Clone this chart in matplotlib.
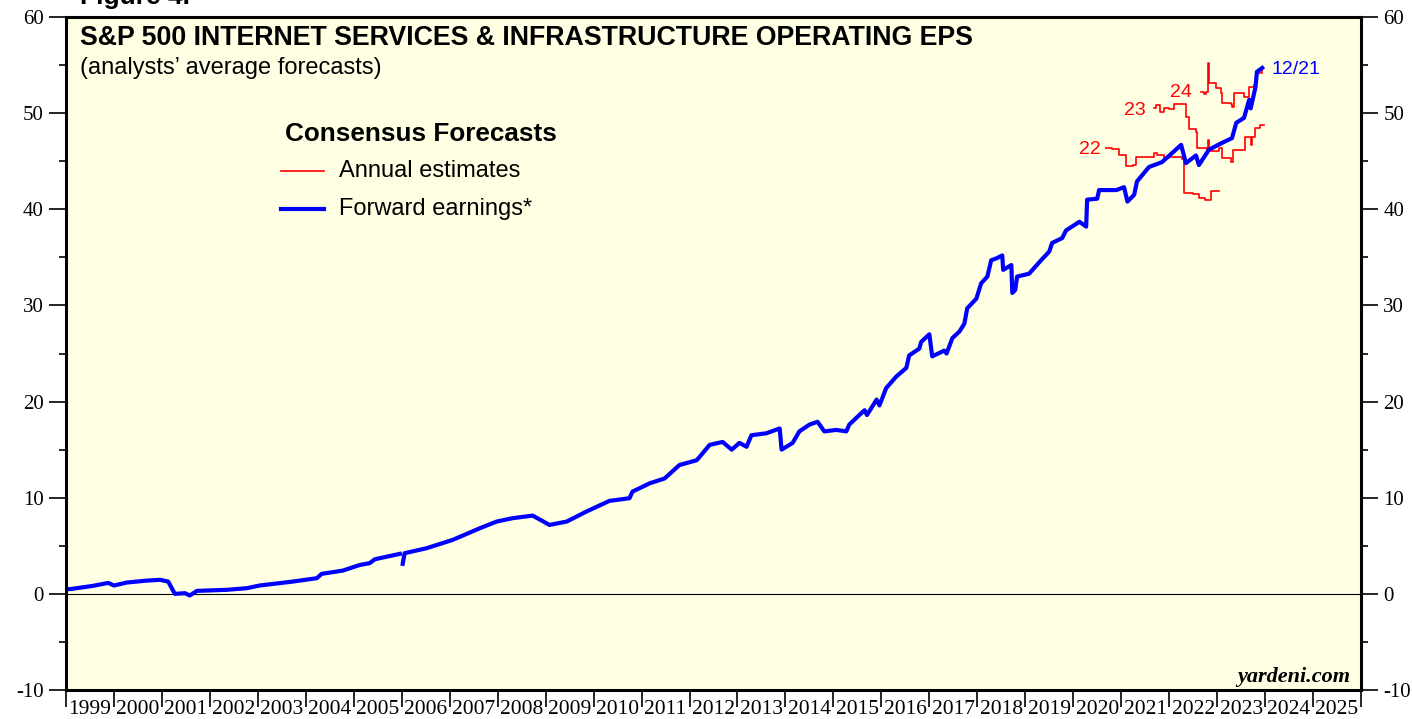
import numpy as np
import matplotlib
matplotlib.use("Agg")
import matplotlib.pyplot as plt
from matplotlib.ticker import MultipleLocator, FixedLocator, NullFormatter

plt.rcParams["axes.unicode_minus"] = False

# forward earnings (blue), decimal year / EPS; nan marks the 2006 break
fwd_year = [1999.0, 1999.08, 1999.56, 1999.88, 2000.0, 2000.27, 2000.69, 2000.96, 2001.13, 2001.27,
            2001.48, 2001.58, 2001.73, 2002.35, 2002.77, 2003.04, 2003.73, 2004.23, 2004.33, 2004.77,
            2005.13, 2005.33, 2005.44, 2005.96, 2005.99, 2006.02, 2006.06, 2006.52, 2007.06, 2007.63,
            2007.98, 2008.31, 2008.73, 2009.08, 2009.44, 2009.85, 2010.33, 2010.75, 2010.81, 2011.17,
            2011.48, 2011.79, 2012.15, 2012.27, 2012.42, 2012.69, 2012.88, 2013.04, 2013.19, 2013.29,
            2013.6, 2013.88, 2013.92, 2014.15, 2014.29, 2014.5, 2014.67, 2014.81, 2015.06, 2015.27,
            2015.33, 2015.54, 2015.65, 2015.7, 2015.9, 2015.96, 2016.1, 2016.31, 2016.52, 2016.58,
            2016.79, 2016.83, 2017.0, 2017.06, 2017.31, 2017.36, 2017.48, 2017.63, 2017.73, 2017.79,
            2017.98, 2018.08, 2018.21, 2018.29, 2018.4, 2018.52, 2018.54, 2018.71, 2018.73, 2018.79,
            2018.83, 2019.08, 2019.33, 2019.5, 2019.56, 2019.77, 2019.85, 2020.13, 2020.27, 2020.29,
            2020.5, 2020.54, 2020.9, 2021.06, 2021.13, 2021.27, 2021.33, 2021.58, 2021.85, 2022.25,
            2022.35, 2022.56, 2022.62, 2022.83, 2023.1, 2023.31, 2023.4, 2023.56, 2023.67, 2023.7,
            2023.8, 2023.83, 2023.94]
fwd_eps = [0.5, 0.49, 0.83, 1.14, 0.87, 1.18, 1.38, 1.46, 1.28, 0.0,
           0.07, -0.17, 0.31, 0.42, 0.59, 0.87, 1.28, 1.63, 2.08, 2.42,
           3.01, 3.19, 3.6, 4.16, np.nan, 3.12, 4.23, 4.75, 5.61, 6.83,
           7.52, 7.87, 8.14, 7.17, 7.52, 8.56, 9.67, 9.95, 10.63, 11.5,
           12.0, 13.4, 13.9, 14.6, 15.5, 15.8, 15.0, 15.7, 15.3, 16.5,
           16.7, 17.2, 15.0, 15.7, 16.9, 17.6, 17.9, 16.9, 17.05, 16.9,
           17.6, 18.6, 19.1, 18.6, 20.2, 19.6, 21.4, 22.6, 23.5, 24.8,
           25.5, 26.2, 27.0, 24.7, 25.3, 25.0, 26.6, 27.3, 28.1, 29.7,
           30.7, 32.3, 33.0, 34.7, 34.9, 35.2, 33.7, 34.2, 31.3, 31.6,
           33.0, 33.3, 34.7, 35.6, 36.5, 37.0, 37.8, 38.7, 38.2, 41.0,
           41.1, 42.0, 42.0, 42.3, 40.8, 41.5, 42.9, 44.4, 44.9, 46.7,
           44.8, 45.6, 44.6, 46.2, 46.9, 47.4, 49.0, 49.5, 51.4, 50.5,
           52.7, 54.3, 54.7]

# annual consensus estimates (red)
est22_year = [2020.69, 2020.8, 2020.96, 2021.1, 2021.25, 2021.31, 2021.5, 2021.69, 2021.75, 2021.9,
              2022.0, 2022.27, 2022.31, 2022.5, 2022.62, 2022.75, 2022.87, 2023.04]
est22_eps = [46.4, 46.3, 45.6, 44.5, 44.6, 45.4, 45.4, 45.9, 45.6, 45.3,
             45.4, 45.2, 41.7, 41.6, 41.2, 41.0, 41.9, 41.9]
est23_year = [2021.69, 2021.72, 2021.8, 2021.9, 2022.0, 2022.1, 2022.27, 2022.35, 2022.42, 2022.56,
              2022.58, 2022.79, 2022.8, 2022.83, 2023.04, 2023.1, 2023.29, 2023.33, 2023.5, 2023.58,
              2023.67, 2023.7, 2023.73, 2023.8, 2023.9, 2023.97]
est23_eps = [50.5, 50.8, 50.1, 50.5, 50.4, 51.0, 51.0, 49.6, 48.4, 48.0,
             46.4, 46.2, 47.2, 46.1, 46.4, 45.3, 44.9, 46.2, 46.2, 47.5,
             47.5, 46.7, 47.5, 48.5, 48.8, 48.8]
est24_year = [2022.67, 2022.73, 2022.77, 2022.8, 2022.83, 2022.98, 2023.08, 2023.1, 2023.29, 2023.31,
              2023.35, 2023.52, 2023.56, 2023.67, 2023.77, 2023.81, 2023.94]
est24_eps = [52.2, 52.0, 52.2, 55.2, 53.1, 52.6, 52.1, 51.1, 51.0, 50.6,
             52.1, 52.1, 51.7, 52.7, 52.9, 54.2, 54.7]

years = list(range(1999, 2026))

fig = plt.figure(figsize=(14.12, 7.19), dpi=100)
ax = fig.add_axes([66 / 1412, 29 / 719, 1295 / 1412, 673 / 719])
ax.set_facecolor("#FFFFE3")

ax.axhline(0, color="black", linewidth=0.8)

red = "#FF0000"
blue = "#0000FF"
for xs, ys in [(est22_year, est22_eps), (est23_year, est23_eps), (est24_year, est24_eps)]:
    ax.plot(xs, ys, color=red, linewidth=1.2, drawstyle="steps-post")
ax.plot(fwd_year, fwd_eps, color=blue, linewidth=3.0)

ax.set_xlim(1999, 2026)
ax.set_ylim(-10, 60)

# year ticks at boundaries, labels centred in between
ax.xaxis.set_major_locator(FixedLocator(years + [2026]))
ax.xaxis.set_major_formatter(NullFormatter())
ax.xaxis.set_minor_locator(FixedLocator([y + 0.5 for y in years]))
ax.set_xticklabels([str(y) for y in years], minor=True)
ax.tick_params(axis="x", which="major", direction="out", length=12, width=1.2)
ax.tick_params(axis="x", which="minor", length=0, pad=7, labelsize=15.5)

ax.yaxis.set_major_locator(MultipleLocator(10))
ax.yaxis.set_minor_locator(MultipleLocator(5))
ax.tick_params(axis="y", which="major", direction="out", length=12, width=1.2,
               left=True, right=True, labelleft=True, labelright=True, labelsize=15, pad=4)
ax.tick_params(axis="y", which="minor", direction="out", length=5, width=1.2,
               left=True, right=True)
for lab in ax.get_xticklabels(minor=True) + ax.get_yticklabels():
    lab.set_fontfamily("Liberation Serif")

for sp in ax.spines.values():
    sp.set_linewidth(2.2)

sans = "Liberation Sans"
ax.text(0.0108, 0.969, "S&P 500 INTERNET SERVICES & INFRASTRUCTURE OPERATING EPS",
        transform=ax.transAxes, fontsize=19.3, fontweight="bold", family=sans, va="center")
ax.text(0.0108, 0.924, "(analysts\u2019 average forecasts)",
        transform=ax.transAxes, fontsize=17, family=sans, va="center")
fig.text(80 / 1412, 1 - 4 / 719, "Figure 4.", fontsize=19, fontweight="bold",
         family=sans, va="baseline")

ax.text(0.169, 0.826, "Consensus Forecasts", transform=ax.transAxes,
        fontsize=18.8, fontweight="bold", family=sans, va="center")
ax.plot([0.166, 0.199], [0.771, 0.771], transform=ax.transAxes, color=red, linewidth=1.2)
ax.text(0.211, 0.771, "Annual estimates", transform=ax.transAxes,
        fontsize=17, family=sans, va="center")
ax.plot([0.166, 0.199], [0.715, 0.715], transform=ax.transAxes, color=blue, linewidth=3.0)
ax.text(0.211, 0.715, "Forward earnings*", transform=ax.transAxes,
        fontsize=17, family=sans, va="center")

ax.text(2020.58, 46.2, "22", color=red, fontsize=14, family=sans, ha="right", va="center")
ax.text(2021.52, 50.3, "23", color=red, fontsize=14, family=sans, ha="right", va="center")
ax.text(2022.48, 52.1, "24", color=red, fontsize=14, family=sans, ha="right", va="center")
ax.text(2024.13, 54.5, "12/21", color=blue, fontsize=14, family=sans, va="center")

ax.text(0.9915, 0.0193, "yardeni.com", transform=ax.transAxes, fontsize=16,
        fontweight="bold", fontstyle="italic", family="Liberation Serif",
        ha="right", va="center")

fig.savefig("out.png", dpi=100, facecolor="white")
